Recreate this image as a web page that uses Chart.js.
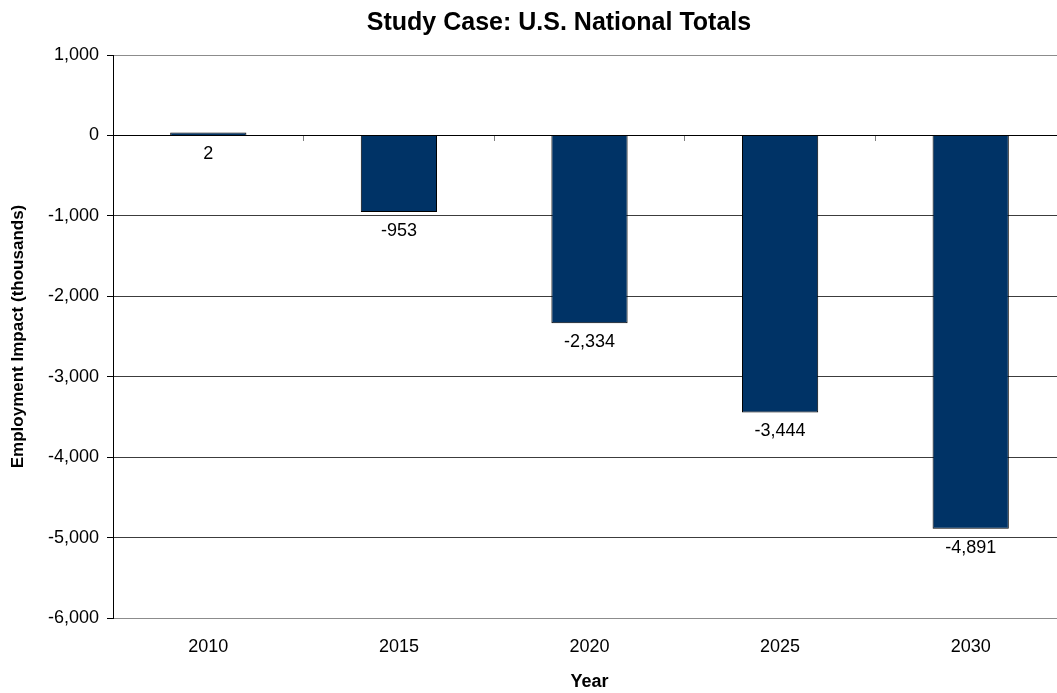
<!DOCTYPE html>
<html lang="en">

<head>
    <meta charset="UTF-8">
    <title>Study Case: U.S. National Totals</title>
    <script src="https://cdn.jsdelivr.net/npm/chart.js"></script>
    <style>
        body {
            margin: 0;
            background: #fff;
            overflow: hidden;
        }

        .wrap {
            position: relative;
            width: 1057px;
            height: 693px;
            overflow: hidden;
        }

        /* title is centred on the original (wider) chart, not on the visible crop */
        .chart-title {
            position: absolute;
            top: 7px;
            left: 0;
            width: 1118px;
            text-align: center;
            font: bold 25px "Liberation Sans", Arial, sans-serif;
            line-height: 28px;
            color: #000;
        }

        #impactChart {
            position: absolute;
            left: 0;
            top: 0;
        }
    </style>
</head>

<body>
    <div class="wrap">
        <canvas id="impactChart" width="1070" height="693"></canvas>
        <div class="chart-title">Study Case: U.S. National Totals</div>
    </div>

    <script>
        // Data
        const years = ['2010', '2015', '2020', '2025', '2030'];
        const impact = [2, -953, -2334, -3444, -4891];
        const yTicks = [1000, 0, -1000, -2000, -3000, -4000, -5000, -6000];

        const FONT = '"Liberation Sans", Arial, sans-serif';
        const fmt = v => v.toLocaleString('en-US');

        // value labels under each bar
        const barLabels = {
            id: 'barLabels',
            afterDatasetsDraw(chart) {
                const ctx = chart.ctx;
                const meta = chart.getDatasetMeta(0);
                ctx.save();
                ctx.font = '18px ' + FONT;
                ctx.fillStyle = '#000';
                ctx.textAlign = 'center';
                ctx.textBaseline = 'middle';
                meta.data.forEach((bar, i) => {
                    const y = Math.max(bar.y, bar.base) + 19;
                    ctx.fillText(fmt(impact[i]), bar.x, y);
                });
                ctx.restore();
            }
        };

        function gridColor(ctx) {
            const v = ctx.tick && ctx.tick.value;
            if (v === 0) return '#000';
            if (v === yTicks[0] || v === yTicks[yTicks.length - 1]) return '#8c8c8c';
            return '#3c3c3c';
        }

        new Chart(document.getElementById('impactChart'), {
            type: 'bar',
            data: {
                labels: years,
                datasets: [{
                    data: impact,
                    backgroundColor: '#003366',
                    borderColor: '#000',
                    borderWidth: 1,
                    minBarLength: 3,
                    categoryPercentage: 1,
                    barPercentage: 0.4,
                    xAxisID: 'x',
                    yAxisID: 'y'
                }]
            },
            options: {
                responsive: false,
                animation: false,
                layout: {
                    padding: { top: 55, right: 4, left: 0, bottom: 0 }
                },
                plugins: {
                    legend: { display: false },
                    tooltip: { enabled: false },
                    title: { display: false }
                },
                scales: {
                    x: {
                        type: 'category',
                        position: 'bottom',
                        grid: { display: false, drawTicks: false },
                        border: { display: false },
                        ticks: {
                            color: '#000',
                            font: { family: FONT, size: 18 },
                            padding: 18,
                            maxRotation: 0
                        },
                        title: {
                            display: true,
                            text: 'Year',
                            color: '#000',
                            font: { family: FONT, size: 18, weight: 'bold' },
                            padding: { top: 0, bottom: 0 }
                        },
                        afterFit(scale) { scale.height = 75; }
                    },
                    // category axis crossing at zero, only draws the line and ticks
                    x2: {
                        type: 'category',
                        position: { y: 0 },
                        offset: true,
                        grid: {
                            display: true,
                            offset: true,
                            drawOnChartArea: false,
                            drawTicks: true,
                            tickLength: 5,
                            tickColor: '#7f7f7f'
                        },
                        border: { display: true, color: '#000', width: 1 },
                        ticks: { display: false }
                    },
                    y: {
                        min: yTicks[yTicks.length - 1],
                        max: yTicks[0],
                        afterBuildTicks(scale) {
                            scale.ticks = yTicks.map(v => ({ value: v }));
                        },
                        grid: {
                            color: gridColor,
                            tickColor: '#000',
                            tickLength: 6,
                            lineWidth: 1
                        },
                        border: { display: true, color: '#000', width: 1 },
                        ticks: {
                            color: '#000',
                            font: { family: FONT, size: 18 },
                            padding: 8,
                            callback: v => fmt(v)
                        },
                        title: {
                            display: true,
                            text: 'Employment Impact (thousands)',
                            color: '#000',
                            font: { family: FONT, size: 17, weight: 'bold' },
                            padding: { top: 8, bottom: 0 }
                        },
                        afterFit(scale) { scale.width = 113; }
                    }
                }
            },
            plugins: [barLabels]
        });
    </script>
</body>

</html>
